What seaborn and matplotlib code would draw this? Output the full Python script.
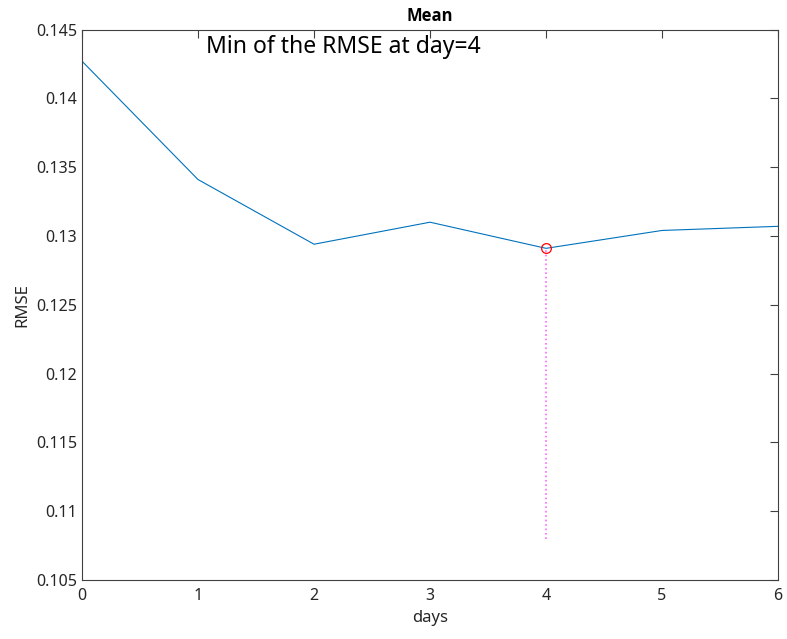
import pandas as pd
import matplotlib.pyplot as plt
import seaborn as sns

# dados
days = [0, 1, 2, 3, 4, 5, 6]
rmse = [0.1427, 0.1341, 0.1294, 0.1310, 0.1291, 0.1304, 0.1307]
min_day = 4
min_rmse = 0.1291
line_bottom = 0.108

df = pd.DataFrame({"days": days, "RMSE": rmse})

sns.set_style("white")
plt.rcParams['font.family'] = ['Noto Sans', 'DejaVu Sans']

fig = plt.figure(figsize=(7.87, 6.39), dpi=100)
ax = fig.add_axes([0.1042, 0.0923, 0.8844, 0.8615])

sns.lineplot(data=df, x="days", y="RMSE", color="#0072BD", linewidth=0.8, ax=ax)
ax.plot([min_day, min_day], [line_bottom, min_rmse], linestyle=":", color="#FF66FF", linewidth=1.2)
ax.plot(min_day, min_rmse, "o", markerfacecolor="none", markeredgecolor="red", markersize=7, markeredgewidth=0.9)

ax.set_xlim(0, 6)
ax.set_ylim(0.105, 0.145)
ax.set_xticks(days)
ax.set_yticks([0.105, 0.11, 0.115, 0.12, 0.125, 0.13, 0.135, 0.14, 0.145])
ax.set_yticklabels(["0.105", "0.11", "0.115", "0.12", "0.125", "0.13", "0.135", "0.14", "0.145"])

for s in ax.spines.values():
    s.set_color("#404040")
    s.set_linewidth(0.8)
ax.tick_params(direction="in", length=6, width=0.8, color="#404040", labelcolor="#262626",
               labelsize=11.5, top=True, right=True)
ax.xaxis.set_tick_params(pad=6)

ax.set_xlabel("days", fontsize=12, color="#262626")
ax.set_ylabel("RMSE", fontsize=12, color="#262626")
ax.set_title("Mean", fontsize=12, fontweight="bold", family=["Open Sans", "DejaVu Sans"], pad=6, color="black")
ax.text(1.07, 0.1446, "Min of the RMSE at day=4", fontsize=16.5, va="top", ha="left", color="black")

plt.savefig("out.png", dpi=100)
